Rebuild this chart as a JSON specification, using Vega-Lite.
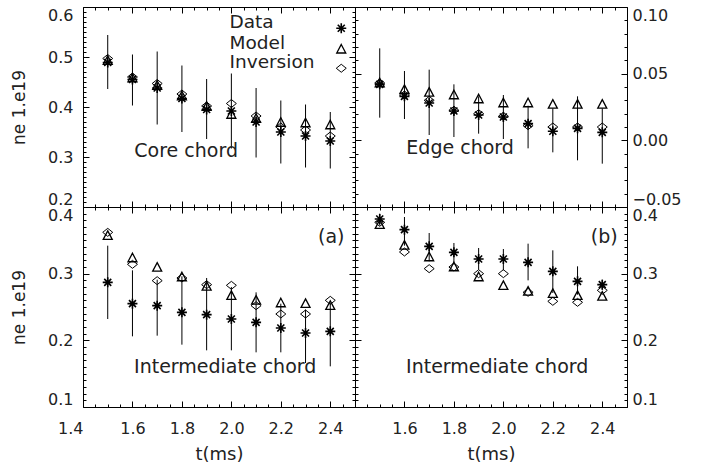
{
 "$schema": "https://vega.github.io/schema/vega-lite/v6.json",
 "padding": {"left": 10, "top": 4, "right": 5, "bottom": 5},
 "background": "white",
 "columns": 2,
 "spacing": 0,
 "bounds": "flush",
 "config": {
  "view": {"stroke": null},
  "font": "DejaVu Sans",
  "axis": {"grid": false, "domainColor": "black", "domainWidth": 1, "tickColor": "black", "tickWidth": 1, "labelFont": "DejaVu Sans", "labelFontSize": 16, "labelColor": "#222", "titleFont": "DejaVu Sans", "titleFontSize": 17, "titleFontWeight": "normal", "titleColor": "#222", "labelOverlap": false, "labelBound": false},
  "text": {"font": "DejaVu Sans", "fontSize": 19, "color": "#222"}
 },
 "datasets": {
  "pts": [
   {"p":"core","t":1.5,"s":"Data","v":0.489},{"p":"core","t":1.5,"s":"Model","v":0.493},{"p":"core","t":1.5,"s":"Inversion","v":0.497},
   {"p":"core","t":1.6,"s":"Data","v":0.455},{"p":"core","t":1.6,"s":"Model","v":0.458},{"p":"core","t":1.6,"s":"Inversion","v":0.46},
   {"p":"core","t":1.7,"s":"Data","v":0.438},{"p":"core","t":1.7,"s":"Model","v":0.443},{"p":"core","t":1.7,"s":"Inversion","v":0.447},
   {"p":"core","t":1.8,"s":"Data","v":0.417},{"p":"core","t":1.8,"s":"Model","v":0.422},{"p":"core","t":1.8,"s":"Inversion","v":0.426},
   {"p":"core","t":1.9,"s":"Data","v":0.395},{"p":"core","t":1.9,"s":"Model","v":0.401},{"p":"core","t":1.9,"s":"Inversion","v":0.402},
   {"p":"core","t":2.0,"s":"Data","v":0.392},{"p":"core","t":2.0,"s":"Model","v":0.385},{"p":"core","t":2.0,"s":"Inversion","v":0.407},
   {"p":"core","t":2.1,"s":"Data","v":0.37},{"p":"core","t":2.1,"s":"Model","v":0.377},{"p":"core","t":2.1,"s":"Inversion","v":0.382},
   {"p":"core","t":2.2,"s":"Data","v":0.35},{"p":"core","t":2.2,"s":"Model","v":0.369},{"p":"core","t":2.2,"s":"Inversion","v":0.36},
   {"p":"core","t":2.3,"s":"Data","v":0.342},{"p":"core","t":2.3,"s":"Model","v":0.368},{"p":"core","t":2.3,"s":"Inversion","v":0.354},
   {"p":"core","t":2.4,"s":"Data","v":0.332},{"p":"core","t":2.4,"s":"Model","v":0.364},{"p":"core","t":2.4,"s":"Inversion","v":0.342},
   {"p":"edge","t":1.5,"s":"Data","v":0.042},{"p":"edge","t":1.5,"s":"Model","v":0.043},{"p":"edge","t":1.5,"s":"Inversion","v":0.043},
   {"p":"edge","t":1.6,"s":"Data","v":0.033},{"p":"edge","t":1.6,"s":"Model","v":0.038},{"p":"edge","t":1.6,"s":"Inversion","v":0.034},
   {"p":"edge","t":1.7,"s":"Data","v":0.028},{"p":"edge","t":1.7,"s":"Model","v":0.036},{"p":"edge","t":1.7,"s":"Inversion","v":0.03},
   {"p":"edge","t":1.8,"s":"Data","v":0.022},{"p":"edge","t":1.8,"s":"Model","v":0.034},{"p":"edge","t":1.8,"s":"Inversion","v":0.0225},
   {"p":"edge","t":1.9,"s":"Data","v":0.019},{"p":"edge","t":1.9,"s":"Model","v":0.031},{"p":"edge","t":1.9,"s":"Inversion","v":0.02},
   {"p":"edge","t":2.0,"s":"Data","v":0.0175},{"p":"edge","t":2.0,"s":"Model","v":0.028},{"p":"edge","t":2.0,"s":"Inversion","v":0.018},
   {"p":"edge","t":2.1,"s":"Data","v":0.0125},{"p":"edge","t":2.1,"s":"Model","v":0.028},{"p":"edge","t":2.1,"s":"Inversion","v":0.011},
   {"p":"edge","t":2.2,"s":"Data","v":0.0068},{"p":"edge","t":2.2,"s":"Model","v":0.027},{"p":"edge","t":2.2,"s":"Inversion","v":0.01},
   {"p":"edge","t":2.3,"s":"Data","v":0.009},{"p":"edge","t":2.3,"s":"Model","v":0.027},{"p":"edge","t":2.3,"s":"Inversion","v":0.01},
   {"p":"edge","t":2.4,"s":"Data","v":0.006},{"p":"edge","t":2.4,"s":"Model","v":0.027},{"p":"edge","t":2.4,"s":"Inversion","v":0.01},
   {"p":"inta","t":1.5,"s":"Data","v":0.287},{"p":"inta","t":1.5,"s":"Model","v":0.357},{"p":"inta","t":1.5,"s":"Inversion","v":0.362},
   {"p":"inta","t":1.6,"s":"Data","v":0.255},{"p":"inta","t":1.6,"s":"Model","v":0.3235},{"p":"inta","t":1.6,"s":"Inversion","v":0.314},
   {"p":"inta","t":1.7,"s":"Data","v":0.252},{"p":"inta","t":1.7,"s":"Model","v":0.3095},{"p":"inta","t":1.7,"s":"Inversion","v":0.2895},
   {"p":"inta","t":1.8,"s":"Data","v":0.242},{"p":"inta","t":1.8,"s":"Model","v":0.295},{"p":"inta","t":1.8,"s":"Inversion","v":0.2935},
   {"p":"inta","t":1.9,"s":"Data","v":0.2385},{"p":"inta","t":1.9,"s":"Model","v":0.281},{"p":"inta","t":1.9,"s":"Inversion","v":0.2835},
   {"p":"inta","t":2.0,"s":"Data","v":0.232},{"p":"inta","t":2.0,"s":"Model","v":0.267},{"p":"inta","t":2.0,"s":"Inversion","v":0.2825},
   {"p":"inta","t":2.1,"s":"Data","v":0.227},{"p":"inta","t":2.1,"s":"Model","v":0.26},{"p":"inta","t":2.1,"s":"Inversion","v":0.252},
   {"p":"inta","t":2.2,"s":"Data","v":0.2185},{"p":"inta","t":2.2,"s":"Model","v":0.256},{"p":"inta","t":2.2,"s":"Inversion","v":0.2395},
   {"p":"inta","t":2.3,"s":"Data","v":0.211},{"p":"inta","t":2.3,"s":"Model","v":0.255},{"p":"inta","t":2.3,"s":"Inversion","v":0.2395},
   {"p":"inta","t":2.4,"s":"Data","v":0.2135},{"p":"inta","t":2.4,"s":"Model","v":0.252},{"p":"inta","t":2.4,"s":"Inversion","v":0.26},
   {"p":"intb","t":1.5,"s":"Data","v":0.382},{"p":"intb","t":1.5,"s":"Model","v":0.3735},{"p":"intb","t":1.5,"s":"Inversion","v":0.377},
   {"p":"intb","t":1.6,"s":"Data","v":0.366},{"p":"intb","t":1.6,"s":"Model","v":0.3425},{"p":"intb","t":1.6,"s":"Inversion","v":0.3325},
   {"p":"intb","t":1.7,"s":"Data","v":0.341},{"p":"intb","t":1.7,"s":"Model","v":0.325},{"p":"intb","t":1.7,"s":"Inversion","v":0.3075},
   {"p":"intb","t":1.8,"s":"Data","v":0.332},{"p":"intb","t":1.8,"s":"Model","v":0.31},{"p":"intb","t":1.8,"s":"Inversion","v":0.31},
   {"p":"intb","t":1.9,"s":"Data","v":0.322},{"p":"intb","t":1.9,"s":"Model","v":0.295},{"p":"intb","t":1.9,"s":"Inversion","v":0.3},
   {"p":"intb","t":2.0,"s":"Data","v":0.322},{"p":"intb","t":2.0,"s":"Model","v":0.282},{"p":"intb","t":2.0,"s":"Inversion","v":0.3},
   {"p":"intb","t":2.1,"s":"Data","v":0.317},{"p":"intb","t":2.1,"s":"Model","v":0.2735},{"p":"intb","t":2.1,"s":"Inversion","v":0.272},
   {"p":"intb","t":2.2,"s":"Data","v":0.3035},{"p":"intb","t":2.2,"s":"Model","v":0.27},{"p":"intb","t":2.2,"s":"Inversion","v":0.2585},
   {"p":"intb","t":2.3,"s":"Data","v":0.2885},{"p":"intb","t":2.3,"s":"Model","v":0.267},{"p":"intb","t":2.3,"s":"Inversion","v":0.257},
   {"p":"intb","t":2.4,"s":"Data","v":0.2835},{"p":"intb","t":2.4,"s":"Model","v":0.266},{"p":"intb","t":2.4,"s":"Inversion","v":0.275}
  ],
  "err": [
   {"p":"core","t":1.5,"lo":0.436,"hi":0.544},{"p":"core","t":1.6,"lo":0.403,"hi":0.505},{"p":"core","t":1.7,"lo":0.365,"hi":0.511},{"p":"core","t":1.8,"lo":0.35,"hi":0.483},{"p":"core","t":1.9,"lo":0.336,"hi":0.456},{"p":"core","t":2.0,"lo":0.317,"hi":0.467},{"p":"core","t":2.1,"lo":0.299,"hi":0.438},{"p":"core","t":2.2,"lo":0.287,"hi":0.413},{"p":"core","t":2.3,"lo":0.279,"hi":0.405},{"p":"core","t":2.4,"lo":0.277,"hi":0.39},
   {"p":"edge","t":1.5,"lo":0.017,"hi":0.069},{"p":"edge","t":1.6,"lo":0.016,"hi":0.052},{"p":"edge","t":1.7,"lo":0.004,"hi":0.053},{"p":"edge","t":1.8,"lo":0.0025,"hi":0.042},{"p":"edge","t":1.9,"lo":0.005,"hi":0.033},{"p":"edge","t":2.0,"lo":0.001,"hi":0.034},{"p":"edge","t":2.1,"lo":-0.006,"hi":0.026},{"p":"edge","t":2.2,"lo":-0.009,"hi":0.024},{"p":"edge","t":2.3,"lo":-0.015,"hi":0.033},{"p":"edge","t":2.4,"lo":-0.0175,"hi":0.024},
   {"p":"inta","t":1.5,"lo":0.232,"hi":0.342},{"p":"inta","t":1.6,"lo":0.206,"hi":0.305},{"p":"inta","t":1.7,"lo":0.207,"hi":0.291},{"p":"inta","t":1.8,"lo":0.1935,"hi":0.296},{"p":"inta","t":1.9,"lo":0.185,"hi":0.2935},{"p":"inta","t":2.0,"lo":0.185,"hi":0.28},{"p":"inta","t":2.1,"lo":0.182,"hi":0.272},{"p":"inta","t":2.2,"lo":0.182,"hi":0.255},{"p":"inta","t":2.3,"lo":0.166,"hi":0.246},{"p":"inta","t":2.4,"lo":0.161,"hi":0.256},
   {"p":"intb","t":1.5,"lo":0.372,"hi":0.39},{"p":"intb","t":1.6,"lo":0.342,"hi":0.385},{"p":"intb","t":1.7,"lo":0.3185,"hi":0.361},{"p":"intb","t":1.8,"lo":0.3135,"hi":0.346},{"p":"intb","t":1.9,"lo":0.306,"hi":0.3385},{"p":"intb","t":2.0,"lo":0.305,"hi":0.337},{"p":"intb","t":2.1,"lo":0.29,"hi":0.345},{"p":"intb","t":2.2,"lo":0.271,"hi":0.335},{"p":"intb","t":2.3,"lo":0.2685,"hi":0.311},{"p":"intb","t":2.4,"lo":0.276,"hi":0.291}
  ]
 },
 "concat": [
  {
   "width": 272, "height": 200,
   "resolve": {"axis": {"x": "independent", "y": "independent"}},
   "layer": [
    {
     "data": {"name": "err"},
     "transform": [{"filter": "datum.p == 'core'"}],
     "mark": {"type": "rule", "color": "black", "strokeWidth": 1},
     "encoding": {
      "x": {"field": "t", "type": "quantitative", "scale": {"domain": [1.4, 2.5], "nice": false, "zero": false},
            "axis": {"orient": "bottom", "title": null, "labels": false, "values": [1.4,1.45,1.5,1.55,1.6,1.65,1.7,1.75,1.8,1.85,1.9,1.95,2.0,2.05,2.1,2.15,2.2,2.25,2.3,2.35,2.4,2.45,2.5],
                     "tickSize": {"condition": {"test": "abs(datum.value*5-round(datum.value*5))<0.01", "value": -6}, "value": -3}}},
      "y": {"field": "lo", "type": "quantitative", "scale": {"domain": [0.2, 0.6], "nice": false, "zero": false},
            "axis": {"orient": "left", "title": "ne 1.e19", "titlePadding": 19, "labelPadding": 16, "labelFlush": true,
                     "values": [0.2,0.21,0.22,0.23,0.24,0.25,0.26,0.27,0.28,0.29,0.3,0.31,0.32,0.33,0.34,0.35,0.36,0.37,0.38,0.39,0.4,0.41,0.42,0.43,0.44,0.45,0.46,0.47,0.48,0.49,0.5,0.51,0.52,0.53,0.54,0.55,0.56,0.57,0.58,0.59,0.6],
                     "labelExpr": "abs(datum.value*10-round(datum.value*10))<0.01 ? format(datum.value,'.1f') : ''",
                     "tickSize": {"condition": {"test": "abs(datum.value*10-round(datum.value*10))<0.01", "value": -6}, "value": -3}}},
      "y2": {"field": "hi"}
     }
    },
    {
     "data": {"name": "pts"},
     "transform": [{"filter": "datum.p == 'core'"}],
     "mark": {"type": "point", "filled": false, "color": "black", "size": 100, "opacity": 1},
     "encoding": {
      "x": {"field": "t", "type": "quantitative",
            "axis": {"orient": "top", "title": null, "labels": false, "values": [1.4,1.45,1.5,1.55,1.6,1.65,1.7,1.75,1.8,1.85,1.9,1.95,2.0,2.05,2.1,2.15,2.2,2.25,2.3,2.35,2.4,2.45,2.5],
                     "tickSize": {"condition": {"test": "abs(datum.value*5-round(datum.value*5))<0.01", "value": -6}, "value": -3}}},
      "y": {"field": "v", "type": "quantitative",
            "axis": {"orient": "right", "title": null, "labels": false,
                     "values": [0.2,0.21,0.22,0.23,0.24,0.25,0.26,0.27,0.28,0.29,0.3,0.31,0.32,0.33,0.34,0.35,0.36,0.37,0.38,0.39,0.4,0.41,0.42,0.43,0.44,0.45,0.46,0.47,0.48,0.49,0.5,0.51,0.52,0.53,0.54,0.55,0.56,0.57,0.58,0.59,0.6],
                     "tickSize": {"condition": {"test": "abs(datum.value*10-round(datum.value*10))<0.01", "value": -6}, "value": -3}}},
      "strokeWidth": {"field": "s", "type": "nominal", "scale": {"domain": ["Data", "Model", "Inversion"], "range": [1.6, 1, 1]}, "legend": null},
      "shape": {"field": "s", "type": "nominal",
                "scale": {"domain": ["Data", "Model", "Inversion"], "range": ["M-1,0L1,0M0,-1L0,1M-0.7,-0.7L0.7,0.7M-0.7,0.7L0.7,-0.7", "M0,-0.95L0.9,0.75L-0.9,0.75Z", "M0,-0.8L1,0L0,0.8L-1,0Z"]},
                "legend": {"orient": "none", "legendX": 249, "legendY": 12, "title": null, "labelFont": "DejaVu Sans", "labelFontSize": 18.5, "labelColor": "#222", "labelOffset": -121, "symbolSize": 100, "symbolStrokeColor": "black", "symbolStrokeWidth": 1, "rowPadding": -3, "labelBaseline": "alphabetic"}}
     }
    },
    {
     "data": {"values": [{"label": "Core chord"}]},
     "mark": {"type": "text", "align": "center", "baseline": "middle"},
     "encoding": {"x": {"datum": 1.817, "type": "quantitative", "axis": null}, "y": {"datum": 0.312, "type": "quantitative", "axis": null}, "text": {"field": "label"}}
    }
   ]
  },
  {
   "width": 272, "height": 200,
   "resolve": {"axis": {"x": "independent", "y": "independent"}},
   "layer": [
    {
     "data": {"name": "err"},
     "transform": [{"filter": "datum.p == 'edge'"}],
     "mark": {"type": "rule", "color": "black", "strokeWidth": 1},
     "encoding": {
      "x": {"field": "t", "type": "quantitative", "scale": {"domain": [1.4, 2.5], "nice": false, "zero": false},
            "axis": {"orient": "bottom", "title": null, "labels": false, "values": [1.4,1.45,1.5,1.55,1.6,1.65,1.7,1.75,1.8,1.85,1.9,1.95,2.0,2.05,2.1,2.15,2.2,2.25,2.3,2.35,2.4,2.45,2.5],
                     "tickSize": {"condition": {"test": "abs(datum.value*5-round(datum.value*5))<0.01", "value": -6}, "value": -3}}},
      "y": {"field": "lo", "type": "quantitative", "scale": {"domain": [-0.05, 0.1], "nice": false, "zero": false},
            "axis": {"orient": "left", "title": null, "labels": false,
                     "values": [-0.05,-0.04,-0.03,-0.02,-0.01,0,0.01,0.02,0.03,0.04,0.05,0.06,0.07,0.08,0.09,0.1],
                     "tickSize": {"condition": {"test": "abs(datum.value*20-round(datum.value*20))<0.01", "value": -6}, "value": -3}}},
      "y2": {"field": "hi"}
     }
    },
    {
     "data": {"name": "pts"},
     "transform": [{"filter": "datum.p == 'edge'"}],
     "mark": {"type": "point", "filled": false, "color": "black", "size": 100, "opacity": 1},
     "encoding": {
      "x": {"field": "t", "type": "quantitative",
            "axis": {"orient": "top", "title": null, "labels": false, "values": [1.4,1.45,1.5,1.55,1.6,1.65,1.7,1.75,1.8,1.85,1.9,1.95,2.0,2.05,2.1,2.15,2.2,2.25,2.3,2.35,2.4,2.45,2.5],
                     "tickSize": {"condition": {"test": "abs(datum.value*5-round(datum.value*5))<0.01", "value": -6}, "value": -3}}},
      "y": {"field": "v", "type": "quantitative",
            "axis": {"orient": "right", "title": null, "labelPadding": 11, "labelFlush": true,
                     "values": [-0.05,-0.04,-0.03,-0.02,-0.01,0,0.01,0.02,0.03,0.04,0.05,0.06,0.07,0.08,0.09,0.1],
                     "labelExpr": "abs(datum.value*20-round(datum.value*20))<0.01 ? format(datum.value,'.2f') : ''",
                     "tickSize": {"condition": {"test": "abs(datum.value*20-round(datum.value*20))<0.01", "value": -6}, "value": -3}}},
      "strokeWidth": {"field": "s", "type": "nominal", "scale": {"domain": ["Data", "Model", "Inversion"], "range": [1.6, 1, 1]}, "legend": null},
      "shape": {"field": "s", "type": "nominal",
                "scale": {"domain": ["Data", "Model", "Inversion"], "range": ["M-1,0L1,0M0,-1L0,1M-0.7,-0.7L0.7,0.7M-0.7,0.7L0.7,-0.7", "M0,-0.95L0.9,0.75L-0.9,0.75Z", "M0,-0.8L1,0L0,0.8L-1,0Z"]},
                "legend": null}
     }
    },
    {
     "data": {"values": [{"label": "Edge chord"}]},
     "mark": {"type": "text", "align": "center", "baseline": "middle"},
     "encoding": {"x": {"datum": 1.825, "type": "quantitative", "axis": null}, "y": {"datum": -0.006, "type": "quantitative", "axis": null}, "text": {"field": "label"}}
    }
   ]
  },
  {
   "width": 272, "height": 200,
   "resolve": {"axis": {"x": "independent", "y": "independent"}},
   "layer": [
    {
     "data": {"name": "err"},
     "transform": [{"filter": "datum.p == 'inta'"}],
     "mark": {"type": "rule", "color": "black", "strokeWidth": 1},
     "encoding": {
      "x": {"field": "t", "type": "quantitative", "scale": {"domain": [1.4, 2.5], "nice": false, "zero": false},
            "axis": {"orient": "bottom", "title": "t(ms)", "titleFontSize": 18, "titlePadding": 6, "labelPadding": 19, "labelFlush": false, "values": [1.4,1.45,1.5,1.55,1.6,1.65,1.7,1.75,1.8,1.85,1.9,1.95,2.0,2.05,2.1,2.15,2.2,2.25,2.3,2.35,2.4,2.45,2.5],
                     "labelExpr": "abs(datum.value*5-round(datum.value*5))<0.01 ? format(datum.value,'.1f') : ''",
                     "labelAlign": {"condition": {"test": "datum.value < 1.45", "value": "right"}, "value": "center"},
                     "tickSize": {"condition": {"test": "abs(datum.value*5-round(datum.value*5))<0.01", "value": -6}, "value": -3}}},
      "y": {"field": "lo", "type": "quantitative", "scale": {"domain": [0.1, 0.4], "nice": false, "zero": false},
            "axis": {"orient": "left", "title": "ne 1.e19", "titlePadding": 19, "labelPadding": 16, "labelFlush": true,
                     "values": [0.1,0.11,0.12,0.13,0.14,0.15,0.16,0.17,0.18,0.19,0.2,0.21,0.22,0.23,0.24,0.25,0.26,0.27,0.28,0.29,0.3,0.31,0.32,0.33,0.34,0.35,0.36,0.37,0.38,0.39,0.4],
                     "labelExpr": "abs(datum.value*10-round(datum.value*10))<0.01 ? format(datum.value,'.1f') : ''",
                     "tickSize": {"condition": {"test": "abs(datum.value*10-round(datum.value*10))<0.01", "value": -6}, "value": -3}}},
      "y2": {"field": "hi"}
     }
    },
    {
     "data": {"name": "pts"},
     "transform": [{"filter": "datum.p == 'inta'"}],
     "mark": {"type": "point", "filled": false, "color": "black", "size": 100, "opacity": 1},
     "encoding": {
      "x": {"field": "t", "type": "quantitative",
            "axis": {"orient": "top", "title": null, "labels": false, "values": [1.4,1.45,1.5,1.55,1.6,1.65,1.7,1.75,1.8,1.85,1.9,1.95,2.0,2.05,2.1,2.15,2.2,2.25,2.3,2.35,2.4,2.45,2.5],
                     "tickSize": {"condition": {"test": "abs(datum.value*5-round(datum.value*5))<0.01", "value": -6}, "value": -3}}},
      "y": {"field": "v", "type": "quantitative",
            "axis": {"orient": "right", "title": null, "labels": false,
                     "values": [0.1,0.11,0.12,0.13,0.14,0.15,0.16,0.17,0.18,0.19,0.2,0.21,0.22,0.23,0.24,0.25,0.26,0.27,0.28,0.29,0.3,0.31,0.32,0.33,0.34,0.35,0.36,0.37,0.38,0.39,0.4],
                     "tickSize": {"condition": {"test": "abs(datum.value*10-round(datum.value*10))<0.01", "value": -6}, "value": -3}}},
      "strokeWidth": {"field": "s", "type": "nominal", "scale": {"domain": ["Data", "Model", "Inversion"], "range": [1.6, 1, 1]}, "legend": null},
      "shape": {"field": "s", "type": "nominal",
                "scale": {"domain": ["Data", "Model", "Inversion"], "range": ["M-1,0L1,0M0,-1L0,1M-0.7,-0.7L0.7,0.7M-0.7,0.7L0.7,-0.7", "M0,-0.95L0.9,0.75L-0.9,0.75Z", "M0,-0.8L1,0L0,0.8L-1,0Z"]},
                "legend": null}
     }
    },
    {
     "data": {"values": [{"label": "Intermediate chord", "x": 1.975, "y": 0.16}, {"label": "(a)", "x": 2.404, "y": 0.355}]},
     "mark": {"type": "text", "align": "center", "baseline": "middle"},
     "encoding": {"x": {"field": "x", "type": "quantitative", "axis": null}, "y": {"field": "y", "type": "quantitative", "axis": null}, "text": {"field": "label"}}
    }
   ]
  },
  {
   "width": 272, "height": 200,
   "resolve": {"axis": {"x": "independent", "y": "independent"}},
   "layer": [
    {
     "data": {"name": "err"},
     "transform": [{"filter": "datum.p == 'intb'"}],
     "mark": {"type": "rule", "color": "black", "strokeWidth": 1},
     "encoding": {
      "x": {"field": "t", "type": "quantitative", "scale": {"domain": [1.4, 2.5], "nice": false, "zero": false},
            "axis": {"orient": "bottom", "title": "t(ms)", "titleFontSize": 18, "titlePadding": 6, "labelPadding": 19, "labelFlush": false, "values": [1.4,1.45,1.5,1.55,1.6,1.65,1.7,1.75,1.8,1.85,1.9,1.95,2.0,2.05,2.1,2.15,2.2,2.25,2.3,2.35,2.4,2.45,2.5],
                     "labelExpr": "datum.value > 1.45 && abs(datum.value*5-round(datum.value*5))<0.01 ? format(datum.value,'.1f') : ''",
                     "tickSize": {"condition": {"test": "abs(datum.value*5-round(datum.value*5))<0.01", "value": -6}, "value": -3}}},
      "y": {"field": "lo", "type": "quantitative", "scale": {"domain": [0.1, 0.4], "nice": false, "zero": false},
            "axis": {"orient": "left", "title": null, "labels": false,
                     "values": [0.1,0.11,0.12,0.13,0.14,0.15,0.16,0.17,0.18,0.19,0.2,0.21,0.22,0.23,0.24,0.25,0.26,0.27,0.28,0.29,0.3,0.31,0.32,0.33,0.34,0.35,0.36,0.37,0.38,0.39,0.4],
                     "tickSize": {"condition": {"test": "abs(datum.value*10-round(datum.value*10))<0.01", "value": -6}, "value": -3}}},
      "y2": {"field": "hi"}
     }
    },
    {
     "data": {"name": "pts"},
     "transform": [{"filter": "datum.p == 'intb'"}],
     "mark": {"type": "point", "filled": false, "color": "black", "size": 100, "opacity": 1},
     "encoding": {
      "x": {"field": "t", "type": "quantitative",
            "axis": {"orient": "top", "title": null, "labels": false, "values": [1.4,1.45,1.5,1.55,1.6,1.65,1.7,1.75,1.8,1.85,1.9,1.95,2.0,2.05,2.1,2.15,2.2,2.25,2.3,2.35,2.4,2.45,2.5],
                     "tickSize": {"condition": {"test": "abs(datum.value*5-round(datum.value*5))<0.01", "value": -6}, "value": -3}}},
      "y": {"field": "v", "type": "quantitative",
            "axis": {"orient": "right", "title": null, "labelPadding": 11, "labelFlush": true,
                     "values": [0.1,0.11,0.12,0.13,0.14,0.15,0.16,0.17,0.18,0.19,0.2,0.21,0.22,0.23,0.24,0.25,0.26,0.27,0.28,0.29,0.3,0.31,0.32,0.33,0.34,0.35,0.36,0.37,0.38,0.39,0.4],
                     "labelExpr": "abs(datum.value*10-round(datum.value*10))<0.01 ? format(datum.value,'.1f') : ''",
                     "tickSize": {"condition": {"test": "abs(datum.value*10-round(datum.value*10))<0.01", "value": -6}, "value": -3}}},
      "strokeWidth": {"field": "s", "type": "nominal", "scale": {"domain": ["Data", "Model", "Inversion"], "range": [1.6, 1, 1]}, "legend": null},
      "shape": {"field": "s", "type": "nominal",
                "scale": {"domain": ["Data", "Model", "Inversion"], "range": ["M-1,0L1,0M0,-1L0,1M-0.7,-0.7L0.7,0.7M-0.7,0.7L0.7,-0.7", "M0,-0.95L0.9,0.75L-0.9,0.75Z", "M0,-0.8L1,0L0,0.8L-1,0Z"]},
                "legend": null}
     }
    },
    {
     "data": {"values": [{"label": "Intermediate chord", "x": 1.975, "y": 0.16}, {"label": "(b)", "x": 2.408, "y": 0.355}]},
     "mark": {"type": "text", "align": "center", "baseline": "middle"},
     "encoding": {"x": {"field": "x", "type": "quantitative", "axis": null}, "y": {"field": "y", "type": "quantitative", "axis": null}, "text": {"field": "label"}}
    }
   ]
  }
 ]
}
